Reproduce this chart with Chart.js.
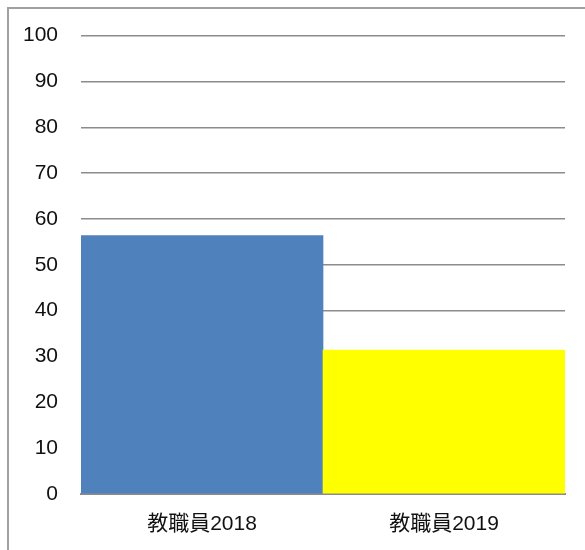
<!DOCTYPE html>
<html>
<head>
<meta charset="utf-8">
<script src="https://cdn.jsdelivr.net/npm/chart.js@4/dist/chart.umd.min.js"></script>
<style>
  html, body { margin: 0; padding: 0; background: #fff; }
  #wrap { position: relative; width: 585px; height: 550px; overflow: hidden; }
  #frame {
    position: absolute; left: 7px; top: 7px; width: 700px; height: 700px;
    border-left: 2px solid #a0a0a0; border-top: 2px solid #a0a0a0;
    pointer-events: none;
  }
</style>
</head>
<body>
<div id="wrap">
  <canvas id="chart" width="585" height="550"></canvas>
  <div id="frame"></div>
</div>
<script>
const categories = ["教職員2018", "教職員2019"];
const values = [56.4, 31.4];
const yTicks = [0, 10, 20, 30, 40, 50, 60, 70, 80, 90, 100];

const fontFamily = "'Liberation Sans', 'Noto Sans CJK JP', sans-serif";

new Chart(document.getElementById("chart"), {
  type: "bar",
  data: {
    labels: categories,
    datasets: [
      {
        data: values,
        backgroundColor: ["#4f81bd", "#ffff00"],
        borderWidth: 0,
        barPercentage: 1,
        categoryPercentage: 1,
      },
    ],
  },
  options: {
    responsive: false,
    animation: false,
    layout: { padding: { top: 34, right: 20, left: 0, bottom: 0 } },
    plugins: { legend: { display: false }, tooltip: { enabled: false } },
    scales: {
      x: {
        grid: { display: false, drawTicks: false },
        border: { display: true, color: "#8c8c8c", width: 2 },
        ticks: {
          color: "#111",
          padding: 18,
          font: { family: fontFamily, size: 21 },
        },
        afterFit: (scale) => { scale.height = 56; },
      },
      y: {
        min: 0,
        max: 100,
        afterBuildTicks: (scale) => {
          scale.ticks = yTicks.map((v) => ({ value: v }));
        },
        grid: { color: "#8c8c8c", lineWidth: 1.5, drawTicks: false },
        border: { display: false },
        ticks: {
          color: "#111",
          padding: 23,
          font: { family: fontFamily, size: 21 },
        },
        afterFit: (scale) => { scale.width = 81; },
      },
    },
  },
});
</script>
</body>
</html>
